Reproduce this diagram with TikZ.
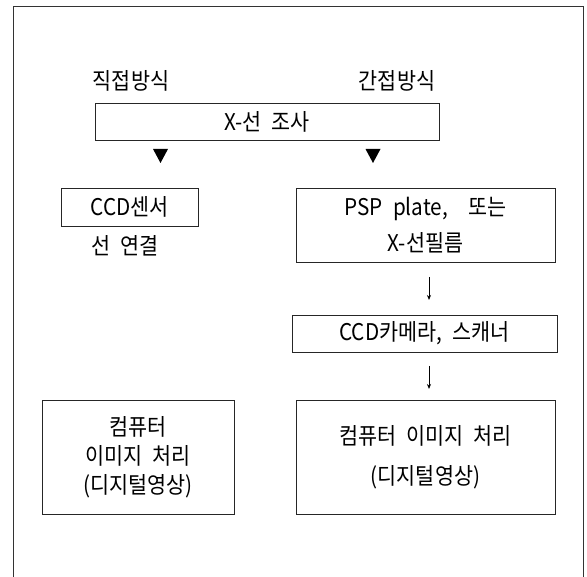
\documentclass[tikz,border=0pt]{standalone}
\usepackage{fontspec}
\newfontfamily\kr[FakeStretch=0.9,WordSpace=2.2]{Noto Sans CJK KR}
\usetikzlibrary{arrows.meta}
\begin{document}
\begin{tikzpicture}[x=1pt,y=-1pt,
  box/.style={draw=black!85, line width=0.8pt, inner sep=0pt, align=center,
    font=\kr\fontsize{23}{29}\selectfont},
  lbl/.style={inner sep=0pt, font=\kr\fontsize{23}{29}\selectfont},
  tri/.style={fill=black},
  arr/.style={draw=black, line width=0.8pt, -{Stealth[length=5pt,width=4pt]}}]
\useasboundingbox (0,0) rectangle (587,577);
% frame
\draw[line width=0.8pt, black!80] (13,577) -- (13,6) -- (583,6) -- (583,577);
% labels
\node[lbl] (direct) at (131,81) {직접방식};
\node[lbl] (indirect) at (397,81) {간접방식};
% boxes
\node[box, minimum width=344pt, minimum height=37pt] (xray) at (267,121.5) {X-선 조사};
\node[box, minimum width=137pt, minimum height=38pt] (ccd) at (129.5,207) {CCD센서};
\node[lbl] (wire) at (125,246) {선 연결};
\node[box, minimum width=259pt, minimum height=74pt,
  font=\kr\fontsize{23}{36}\selectfont] (psp) at (425.5,225.5) {PSP plate,\ \ 또는\\X-선필름};
\node[box, minimum width=265pt, minimum height=37pt] (cam) at (424.5,333.5) {CCD카메라, 스캐너};
\node[box, minimum width=192pt, minimum height=114pt] (pcl) at (138,457.5) {컴퓨터\\이미지 처리\\(디지털영상)};
\node[box, minimum width=259pt, minimum height=114pt,
  font=\kr\fontsize{23}{40}\selectfont] (pcr) at (425.5,457.5) {컴퓨터 이미지 처리\\(디지털영상)};
% triangles
\fill[tri] (153,149) -- (168,149) -- (160.5,163) -- cycle;
\fill[tri] (365.5,149) -- (380.5,149) -- (373,163) -- cycle;
% arrows
\coordinate (a1s) at (429,277);
\coordinate (a1e) at (429,300);
\coordinate (a2s) at (429,366);
\coordinate (a2e) at (429,389);
\draw[arr] (a1s) -- (a1e);
\draw[arr] (a2s) -- (a2e);
\end{tikzpicture}
\end{document}
